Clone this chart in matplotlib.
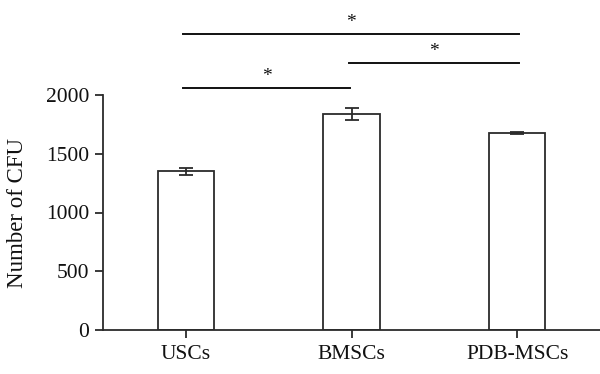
import matplotlib
matplotlib.use("Agg")
import matplotlib.pyplot as plt

categories = ["USCs", "BMSCs", "PDB-MSCs"]
values = [1350, 1840, 1680]
errors = [30, 52, 8]
yticks = [0, 500, 1000, 1500, 2000]
# significance comparisons: (i, j, line height, label)
comparisons = [(0, 1, 2057, "*"), (1, 2, 2270, "*"), (0, 2, 2517, "*")]

plt.rcParams['font.family'] = ['Liberation Serif', 'DejaVu Serif']
col = "#2b2b2b"

fig = plt.figure(figsize=(6.0, 3.74), dpi=100)
ax = fig.add_axes([103/600, 1-330/374, 1-103/600, (330-95)/374])

x = list(range(len(categories)))
ax.bar(x, values, width=0.34, color="white", edgecolor=col, linewidth=1.3, zorder=2)
ax.errorbar(x, values, yerr=errors, fmt="none", ecolor=col, elinewidth=1.3,
            capsize=4.7, capthick=1.3, zorder=3)

ax.set_xlim(-0.5, 2.5)
ax.set_ylim(0, 2000)
ax.set_xticks(x)
ax.set_xticklabels(categories, fontsize=15.5, color="#111111")
ax.set_yticks(yticks)
ax.set_yticklabels([str(t) for t in yticks], fontsize=15.5, color="#111111")
ax.set_ylabel("Number of CFU", fontsize=16.5, color="#111111", labelpad=13)

for s in ["top", "right"]:
    ax.spines[s].set_visible(False)
for s in ["left", "bottom"]:
    ax.spines[s].set_color(col)
    ax.spines[s].set_linewidth(1.3)
ax.tick_params(axis="both", direction="out", length=6, width=1.3, color=col)
ax.tick_params(axis="y", pad=4)
ax.tick_params(axis="x", pad=5)

for i, j, h, lab in comparisons:
    x0 = i - 0.016
    x1 = j + 0.012 if j == 2 else j - 0.01
    ax.plot([x0, x1], [h, h], color="#111111", linewidth=1.4, clip_on=False)
    ax.text((x0 + x1) / 2, h + 100, lab, ha="center", va="center",
            fontsize=14, color="#111111", clip_on=False)

fig.savefig("out.png", dpi=100)
